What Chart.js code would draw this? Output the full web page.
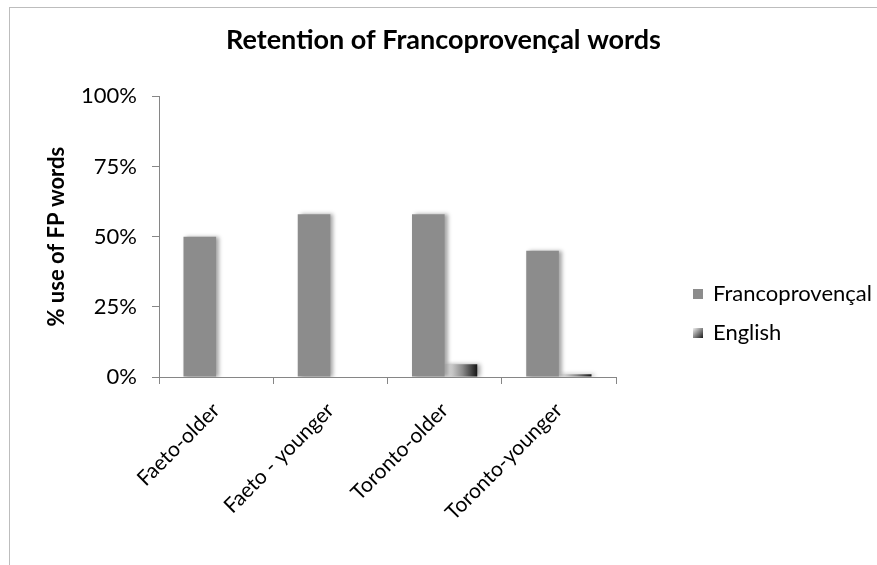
<!DOCTYPE html>
<html>
<head>
<meta charset="utf-8">
<script src="https://cdn.jsdelivr.net/npm/chart.js@4.4.0/dist/chart.umd.min.js"></script>
<style>
  body { margin: 0; background: #fff; }
  #wrap { position: relative; width: 877px; height: 565px; overflow: hidden; }
  #frame { position: absolute; left: 9px; top: 7px; width: 900px; height: 600px;
           border-top: 1px solid #bdbdbd; border-left: 1px solid #bdbdbd; }
  #myChart { position: absolute; left: 0; top: 0; }
  .leg { position: absolute; left: 693px; font-family: Lato, sans-serif; font-size: 22px; color: #000;
         line-height: 22px; white-space: nowrap; }
  .leg i { display: inline-block; width: 10px; height: 10px; margin-right: 10px; vertical-align: 2px; }
</style>
</head>
<body>
<div id="wrap">
  <div id="frame"></div>
  <canvas id="myChart" width="877" height="565"></canvas>
  <div class="leg" style="top:282px"><i style="background:#8c8c8c"></i>Francoprovençal</div>
  <div class="leg" style="top:321px"><i style="background:linear-gradient(135deg,#f2f2f2,#1a1a1a)"></i>English</div>
</div>
<script>
var groups = ['Faeto-older', 'Faeto - younger', 'Toronto-older', 'Toronto-younger'];
var fpValues = [50, 58, 58, 45];
var englishValues = [0, 0, 4.5, 1];
var yTicks = [0, 25, 50, 75, 100];

var CAT_PCT = 2 / 3.5;

// horizontal light-to-dark gradient for each English bar
function englishFill(c) {
  var chart = c.chart;
  var xs = chart.scales.x;
  if (!xs || c.dataIndex === undefined) return '#555';
  var catW = xs.width / groups.length;
  var barW = catW * CAT_PCT / 2;
  var left = xs.getPixelForValue(c.dataIndex);
  if (!isFinite(left) || !isFinite(barW) || barW <= 0) return '#555';
  var g = chart.ctx.createLinearGradient(left, 0, left + barW, 0);
  g.addColorStop(0, '#f4f4f4');
  g.addColorStop(0.55, '#8a8a8a');
  g.addColorStop(1, '#151515');
  return g;
}

var shadowPlugin = {
  id: 'barShadow',
  beforeDatasetsDraw: function(chart) {
    var ctx = chart.ctx;
    ctx.save();
    ctx.shadowColor = 'rgba(0,0,0,0.35)';
    ctx.shadowBlur = 4;
    ctx.shadowOffsetX = 3;
    ctx.shadowOffsetY = 0;
  },
  afterDatasetsDraw: function(chart) {
    chart.ctx.restore();
  }
};

var ctx = document.getElementById('myChart').getContext('2d');
var myChart = new Chart(ctx, {
  type: 'bar',
  data: {
    labels: groups,
    datasets: [{
      label: 'Francoprovençal',
      data: fpValues,
      backgroundColor: '#8c8c8c',
      borderWidth: 0
    }, {
      label: 'English',
      data: englishValues,
      backgroundColor: englishFill,
      borderWidth: 0
    }]
  },
  plugins: [shadowPlugin],
  options: {
    responsive: false,
    animation: false,
    layout: { padding: { left: 10, right: 0, top: 0, bottom: 0 } },
    datasets: { bar: { categoryPercentage: CAT_PCT, barPercentage: 1 } },
    plugins: {
      legend: { display: false },
      tooltip: { enabled: false },
      //Chart title
      title: {
        display: true,
        text: 'Retention of Francoprovençal words',
        color: '#000',
        font: { family: 'Lato', size: 27, weight: 'bold', lineHeight: 1.2 },
        padding: { top: 24, bottom: 40 }
      }
    },
    scales: {
      x: {
        afterFit: function(s) { s.height = 188; },
        grid: { offset: true, drawOnChartArea: false, drawTicks: true, tickLength: 7, color: '#868686' },
        border: { color: '#868686' },
        ticks: {
          color: '#000',
          font: { family: 'Lato', size: 21 },
          maxRotation: 45, minRotation: 45,
          padding: 14
        }
      },
      y: {
        min: 0, max: 100,
        afterFit: function(s) { s.width = 149; },
        afterBuildTicks: function(s) { s.ticks = yTicks.map(function(v) { return { value: v }; }); },
        grid: { drawOnChartArea: false, drawTicks: true, tickLength: 7, color: '#868686' },
        border: { color: '#868686' },
        ticks: {
          color: '#000',
          font: { family: 'Lato', size: 22 },
          padding: 15,
          callback: function(v) { return v + '%'; }
        },
        title: {
          display: true,
          text: '% use of FP words',
          color: '#000',
          font: { family: 'Lato', size: 22, weight: 'bold', lineHeight: 1.2 },
          padding: { top: 34, bottom: 0 }
        }
      },
      // empty space on the right where the legend sits
      legendSpace: {
        type: 'linear',
        position: 'right',
        afterFit: function(s) { s.width = 261; },
        grid: { display: false },
        border: { display: false },
        ticks: { display: false }
      }
    }
  }
});
</script>
</body>
</html>
